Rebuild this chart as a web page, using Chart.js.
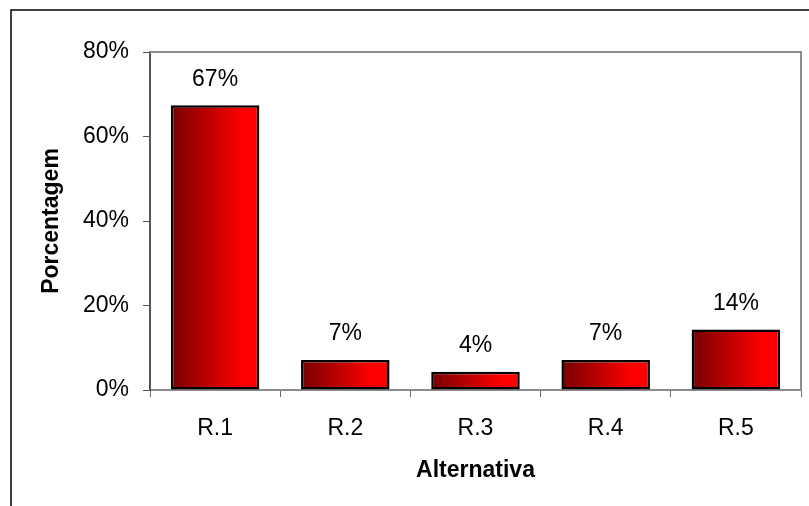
<!DOCTYPE html>
<html>
<head>
<meta charset="utf-8">
<script src="https://cdn.jsdelivr.net/npm/chart.js@4/dist/chart.umd.min.js"></script>
<style>
  html, body { margin: 0; padding: 0; background: #fff; }
  #wrap { width: 809px; height: 506px; }
</style>
</head>
<body>
<div id="wrap"><canvas id="chart" width="809" height="506"></canvas></div>
<script>
// values
const alternativas = ['R.1', 'R.2', 'R.3', 'R.4', 'R.5'];
const porcentagens = [0.674, 0.071, 0.043, 0.071, 0.143];
const yTicks = [0, 0.2, 0.4, 0.6, 0.8];

const FONT = '"Liberation Sans", Arial, sans-serif';
const BAR_PCT = 0.68;

// horizontal dark-to-bright red gradient per bar
function barGradient(context) {
  const chart = context.chart;
  const xs = chart.scales.x;
  if (!xs || !chart.chartArea) return '#c00000';
  const cx = xs.getPixelForValue(context.dataIndex);
  const half = (xs.width / alternativas.length) * BAR_PCT / 2;
  const g = chart.ctx.createLinearGradient(cx - half, 0, cx + half, 0);
  g.addColorStop(0, '#780000');
  g.addColorStop(0.45, '#c00000');
  g.addColorStop(0.8, '#ff0000');
  g.addColorStop(1, '#ff0000');
  return g;
}

// plot frame, outer frame and value labels
const extras = {
  id: 'extras',
  afterDatasetsDraw(chart) {
    const ctx = chart.ctx;
    const a = chart.chartArea;
    ctx.save();
    ctx.strokeStyle = '#8c8c8c';
    ctx.lineWidth = 2;
    ctx.beginPath();
    ctx.moveTo(a.left, a.top);
    ctx.lineTo(a.right, a.top);
    ctx.lineTo(a.right, a.bottom);
    ctx.stroke();
    ctx.strokeStyle = '#000';
    ctx.lineWidth = 1.5;
    ctx.beginPath();
    ctx.moveTo(11, chart.height);
    ctx.lineTo(11, 10);
    ctx.lineTo(chart.width, 10);
    ctx.stroke();
    ctx.fillStyle = '#000';
    ctx.font = '23px ' + FONT;
    ctx.textAlign = 'center';
    ctx.textBaseline = 'middle';
    chart.getDatasetMeta(0).data.forEach((el, i) => {
      ctx.fillText(Math.round(porcentagens[i] * 100) + '%', el.x, el.y - 26);
    });
    ctx.restore();
  }
};

new Chart(document.getElementById('chart'), {
  type: 'bar',
  data: {
    labels: alternativas,
    datasets: [{
      data: porcentagens,
      backgroundColor: barGradient,
      borderColor: '#000',
      borderWidth: 2.5,
      borderSkipped: false,
      barPercentage: BAR_PCT,
      categoryPercentage: 1
    }]
  },
  options: {
    responsive: false,
    animation: false,
    layout: { padding: { left: 0, top: 52, right: 8, bottom: 0 } },
    plugins: { legend: { display: false }, tooltip: { enabled: false } },
    scales: {
      x: {
        afterFit(scale) { scale.height = 116; },
        grid: { drawOnChartArea: false, drawTicks: true, tickLength: 7, color: '#666', offset: true },
        border: { color: '#8c8c8c', width: 2 },
        ticks: { color: '#000', font: { family: FONT, size: 23 }, padding: 18 },
        title: { display: true, text: 'Alternativa', color: '#000',
                 font: { family: FONT, size: 23, weight: 'bold' }, padding: { top: 0, bottom: 22 } }
      },
      y: {
        min: 0,
        max: 0.8,
        afterFit(scale) { scale.width = 150; },
        afterBuildTicks(scale) { scale.ticks = yTicks.map(v => ({ value: v })); },
        grid: { drawOnChartArea: false, drawTicks: true, tickLength: 7, color: '#555' },
        border: { color: '#555', width: 2 },
        ticks: { color: '#000', font: { family: FONT, size: 23 }, padding: 14,
                 callback: v => Math.round(v * 100) + '%' },
        title: { display: true, text: 'Porcentagem', color: '#000',
                 font: { family: FONT, size: 23, weight: 'bold' }, padding: { top: 38, bottom: 0 } }
      }
    }
  },
  plugins: [extras]
});
</script>
</body>
</html>
